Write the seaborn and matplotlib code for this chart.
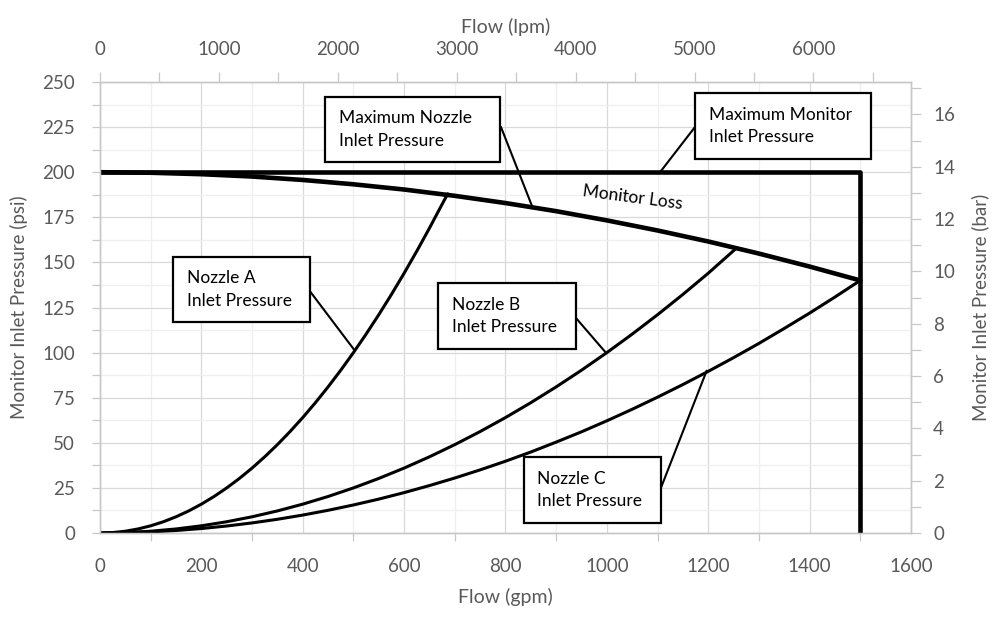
import numpy as np
import pandas as pd
import seaborn as sns
import matplotlib.pyplot as plt
from matplotlib.ticker import MultipleLocator
from matplotlib.patches import Rectangle

# values (flow in gpm, pressure in psi)
monitor_flow = [0, 100, 200, 300, 400, 500, 600, 700, 800, 900, 1000, 1100, 1200, 1300, 1400, 1500]
monitor_psi = [200, 199.7, 198.9, 197.6, 195.7, 193.3, 190.4, 186.9, 182.9, 178.4, 173.3, 167.7, 161.6, 154.9, 147.7, 140]

limit_flow = [0, 1500, 1500]
limit_psi = [200, 200, 0]

nozzle_a_flow = [0, 25, 50, 75, 100, 125, 150, 175, 200, 225, 250, 275, 300, 325, 350, 375, 400,
                 425, 450, 475, 500, 525, 550, 575, 600, 625, 650, 675, 686]
nozzle_a_psi = [0, 0.25, 1, 2.25, 4, 6.25, 9, 12.25, 16, 20.25, 25, 30.25, 36, 42.25, 49, 56.25, 64,
                72.25, 81, 90.25, 100, 110.25, 121, 132.25, 144, 156.25, 169, 182.25, 188]

nozzle_b_flow = [0, 50, 100, 150, 200, 250, 300, 350, 400, 450, 500, 550, 600, 650, 700, 750, 800,
                 850, 900, 950, 1000, 1050, 1100, 1150, 1200, 1256]
nozzle_b_psi = [0, 0.25, 1, 2.25, 4, 6.25, 9, 12.25, 16, 20.25, 25, 30.25, 36, 42.25, 49, 56.25, 64,
                72.25, 81, 90.25, 100, 110.25, 121, 132.25, 144, 158]

nozzle_c_flow = [0, 50, 100, 150, 200, 250, 300, 350, 400, 450, 500, 550, 600, 650, 700, 750, 800,
                 850, 900, 950, 1000, 1050, 1100, 1150, 1200, 1250, 1300, 1350, 1400, 1450, 1500]
nozzle_c_psi = [0, 0.16, 0.62, 1.4, 2.49, 3.89, 5.6, 7.62, 9.95, 12.6, 15.55, 18.8, 22.4, 26.3, 30.5, 35, 39.8,
                44.9, 50.4, 56.1, 62.2, 68.6, 75.3, 82.3, 89.6, 97.2, 105.1, 113.4, 121.9, 130.8, 140]

# callout text boxes
callout_text = ['Maximum Nozzle\nInlet Pressure', 'Maximum Monitor\nInlet Pressure',
                'Nozzle A\nInlet Pressure', 'Nozzle B\nInlet Pressure', 'Nozzle C\nInlet Pressure']
callout_box = [(444, 205.7, 789, 241.7), (1174, 207.3, 1521, 243.9), (144, 117, 414, 153),
               (667, 102, 939, 138.6), (836, 5.5, 1107, 42.1)]
callout_from = [(791, 225.1), (1174, 225.1), (414, 134.1), (939, 119.2), (1105, 23.8)]
callout_to = [(852, 181.5), (1105, 200), (503, 101), (998, 100), (1197, 90)]

sns.set_theme(style='white')
plt.rcParams['font.family'] = ['Lato', 'DejaVu Sans']

grey = '#595959'
axis_grey = '#c8c8c8'

fig = plt.figure(figsize=(9.97, 6.17), dpi=100)
ax = fig.add_axes([0.1003, 0.1361, 0.8134, 0.731])

lw_thick = 3.3
lw_curve = 2.2
sns.lineplot(x=nozzle_a_flow, y=nozzle_a_psi, color='black', linewidth=lw_curve, estimator=None, sort=False, ax=ax, zorder=3)
sns.lineplot(x=nozzle_b_flow, y=nozzle_b_psi, color='black', linewidth=lw_curve, estimator=None, sort=False, ax=ax, zorder=3)
sns.lineplot(x=nozzle_c_flow, y=nozzle_c_psi, color='black', linewidth=lw_curve, estimator=None, sort=False, ax=ax, zorder=3)
sns.lineplot(x=monitor_flow, y=monitor_psi, color='black', linewidth=lw_thick, estimator=None, sort=False, ax=ax, zorder=4)
sns.lineplot(x=limit_flow, y=limit_psi, color='black', linewidth=lw_thick, estimator=None, sort=False, ax=ax, zorder=4)

ax.set_xlim(0, 1600)
ax.set_ylim(0, 250)
ax.xaxis.set_major_locator(MultipleLocator(200))
ax.xaxis.set_minor_locator(MultipleLocator(100))
ax.yaxis.set_major_locator(MultipleLocator(25))
ax.yaxis.set_minor_locator(MultipleLocator(12.5))
ax.grid(which='major', color='#d9d9d9', linewidth=0.9)
ax.grid(which='minor', color='#efefef', linewidth=0.9)
ax.set_axisbelow(True)

ax.tick_params(axis='x', which='major', length=0, pad=18, labelsize=13.5, labelcolor=grey)
ax.tick_params(axis='x', which='minor', length=6, width=0.9, color=axis_grey, direction='out')
ax.tick_params(axis='y', which='both', length=6, width=0.9, color=axis_grey, direction='out')
ax.tick_params(axis='y', which='major', pad=12, labelsize=13.5, labelcolor=grey)
ax.set_xlabel('Flow (gpm)', fontsize=14, color=grey, labelpad=9)
ax.set_ylabel('Monitor Inlet Pressure (psi)', fontsize=13.5, color=grey, labelpad=10)

# secondary axes: bar on the right, lpm on top
axr = ax.twinx()
axr.set_ylim(0, 17.24)
axr.yaxis.set_major_locator(MultipleLocator(2))
axr.yaxis.set_minor_locator(MultipleLocator(1))
axr.tick_params(axis='y', which='both', length=7, width=0.9, color=axis_grey, direction='out')
axr.tick_params(axis='y', which='major', pad=9, labelsize=13.5, labelcolor=grey)
axr.set_ylabel('Monitor Inlet Pressure (bar)', fontsize=13.5, color=grey, labelpad=12)

axt = ax.twiny()
axt.set_xlim(0, 6820)
axt.xaxis.set_major_locator(MultipleLocator(1000))
axt.xaxis.set_minor_locator(MultipleLocator(500))
axt.tick_params(axis='x', which='both', length=7, width=0.9, color=axis_grey, direction='out')
axt.tick_params(axis='x', which='major', pad=10, labelsize=13.5, labelcolor=grey)
axt.set_xlabel('Flow (lpm)', fontsize=14, color=grey, labelpad=6)

for a in (ax, axr, axt):
    for spine in a.spines.values():
        spine.set_visible(True)
        spine.set_color(axis_grey)
        spine.set_linewidth(0.9)

# callouts with leader lines
for text, box, p0, p1 in zip(callout_text, callout_box, callout_from, callout_to):
    ax.plot([p0[0], p1[0]], [p0[1], p1[1]], color='black', linewidth=1.5, zorder=5)
    ax.add_patch(Rectangle((box[0], box[1]), box[2] - box[0], box[3] - box[1],
                           facecolor='white', edgecolor='black', linewidth=1.6, zorder=6))
    ax.text(box[0] + 27, (box[1] + box[3]) / 2, text, ha='left', va='center',
            fontsize=12.5, color='black', linespacing=1.5, zorder=7)

ax.text(1050, 186, 'Monitor Loss', rotation=-7.5, ha='center', va='center',
        fontsize=12.5, color='black', zorder=7, rotation_mode='anchor')

fig.savefig('out.png', dpi=100)
